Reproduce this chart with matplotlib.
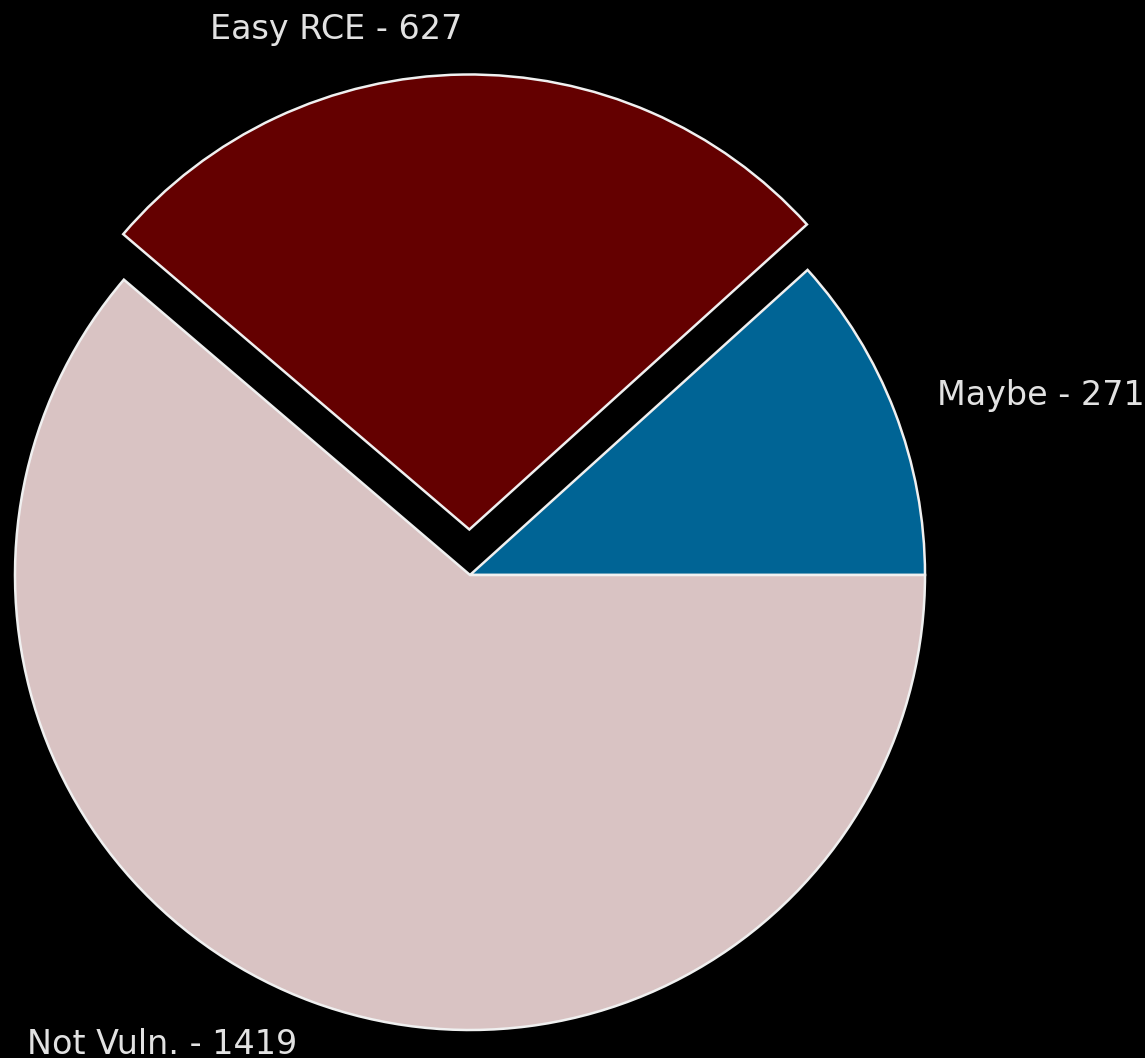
import matplotlib
matplotlib.use("Agg")
import matplotlib.pyplot as plt

# scan results per category
labels = ["Maybe", "Easy RCE", "Not Vuln."]
counts = [271, 627, 1419]
colors = ["#006495", "#640000", "#d9c3c3"]
explode = [0, 0.1, 0]

plt.rcParams['font.family'] = ['DejaVu Sans']

fig = plt.figure(figsize=(11.45, 10.58), dpi=100, facecolor="black")
ax = fig.add_axes([0, 0, 1, 1], facecolor="black")

wedges, texts = ax.pie(
    counts,
    labels=["%s - %d" % (l, c) for l, c in zip(labels, counts)],
    colors=colors,
    explode=explode,
    wedgeprops={"edgecolor": "#f0f0f0", "linewidth": 1.8},
    textprops={"color": "#e2e2e2", "fontsize": 24},
)

# pie centre at (470, 575) px, radius 455 px
ax.set_xlim(-470 / 455, 675 / 455)
ax.set_ylim(-(1058 - 575) / 455, 575 / 455)
ax.set_aspect("equal")
ax.axis("off")

fig.savefig("out.png", dpi=100, facecolor="black")
